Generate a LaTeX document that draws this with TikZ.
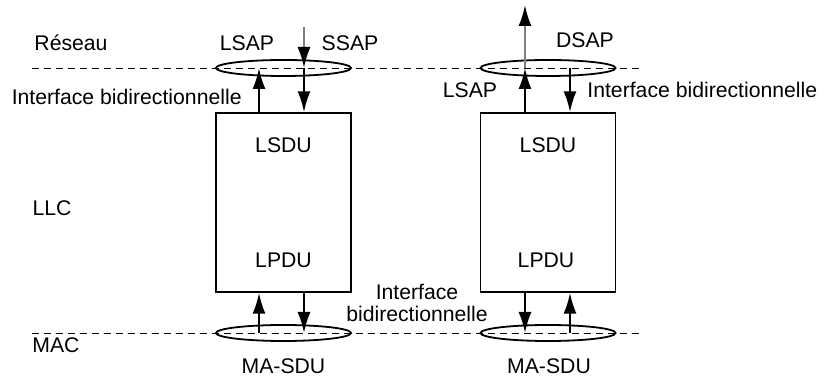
\documentclass[tikz,border=0pt]{standalone}
\usepackage{fontspec}
\setmainfont{Liberation Sans}
\usetikzlibrary{arrows.meta,shapes.geometric}

\tikzset{
    layer/.style={draw, line width=0.7pt, minimum width=67.5pt, minimum height=89.5pt, inner sep=0pt},
    sap/.style={draw, ellipse, line width=0.9pt, minimum width=67.5pt, minimum height=8pt, inner sep=0pt},
    prim/.style={line width=1.1pt, -{Latex[length=10.5pt,width=6.5pt]}},
    ext/.style={line width=1.1pt, black!50, -{Latex[length=10.5pt,width=6.5pt,color=black]}},
    border/.style={line width=0.4pt, dash pattern=on 3.5pt off 2.5pt},
    lbl/.style={font=\fontsize{10.6}{11}\selectfont, inner sep=0pt, text height=7.5pt, text depth=0pt}
}

\begin{document}
\begin{tikzpicture}[x=0.5pt, y=-0.5pt]
    \useasboundingbox (0,0) rectangle (825,378);

    % Layer boundaries
    \draw[border] (32,68) -- (643,68);
    \draw[border] (32,333) -- (643,333);

    % LLC entities
    \node[layer] (boxA) at (283.5,202.5) {};
    \node[layer] (boxB) at (548,202.5) {};

    % Service access points
    \node[sap] (sapA) at (283.5,68) {};
    \node[sap] (sapB) at (548,68) {};
    \node[sap] (macA) at (283.5,333) {};
    \node[sap] (macB) at (548,333) {};

    % Arrow ends
    \coordinate (lsapA) at (259,68);
    \coordinate (ssapA) at (304,68);
    \coordinate (ssapIn) at (304,27);
    \coordinate (lsapB) at (525,68);
    \coordinate (dsapB) at (570,68);
    \coordinate (dsapOut) at (525,5);
    \coordinate (mA1) at (259,333);
    \coordinate (mA2) at (304,333);
    \coordinate (mB1) at (525,333);
    \coordinate (mB2) at (570,333);

    % Primitives
    \draw[ext] (ssapIn) -- (ssapA);
    \draw[prim] (ssapA) -- (boxA.north -| ssapA);
    \draw[prim] (boxA.north -| lsapA) -- (lsapA);
    \draw[prim] (boxB.north -| lsapB) -- (lsapB);
    \draw[ext] (lsapB) -- (dsapOut);
    \draw[prim] (dsapB) -- (boxB.north -| dsapB);
    \draw[prim] (mA1) -- (boxA.south -| mA1);
    \draw[prim] (boxA.south -| mA2) -- (mA2);
    \draw[prim] (boxB.south -| mB1) -- (mB1);
    \draw[prim] (mB2) -- (boxB.south -| mB2);

    % Labels
    \node[lbl] (reseau) at (71,43) {Réseau};
    \node[lbl] (llc) at (52,208) {LLC};
    \node[lbl] (mac) at (56,345) {MAC};
    \node[lbl] (lsapTxtA) at (247,43) {LSAP};
    \node[lbl] (ssapTxt) at (350,43) {SSAP};
    \node[lbl, anchor=east] (ifA) at (242,97) {Interface bidirectionnelle};
    \node[lbl] (dsapTxt) at (585,40) {DSAP};
    \node[lbl] (lsapTxtB) at (470,90) {LSAP};
    \node[lbl, anchor=west] (ifB) at (587,90) {Interface bidirectionnelle};
    \node[lbl] (lsduA) at (283.5,145) {LSDU};
    \node[lbl] (lsduB) at (548,145) {LSDU};
    \node[lbl] (lpduA) at (283.5,260) {LPDU};
    \node[lbl] (lpduB) at (546,260) {LPDU};
    \node[font=\fontsize{10.6}{11}\selectfont, align=center, inner sep=0pt] (ifMid) at (417,303) {Interface\\bidirectionnelle};
    \node[lbl] (masduA) at (283.5,366) {MA-SDU};
    \node[lbl] (masduB) at (549,366) {MA-SDU};
\end{tikzpicture}
\end{document}
